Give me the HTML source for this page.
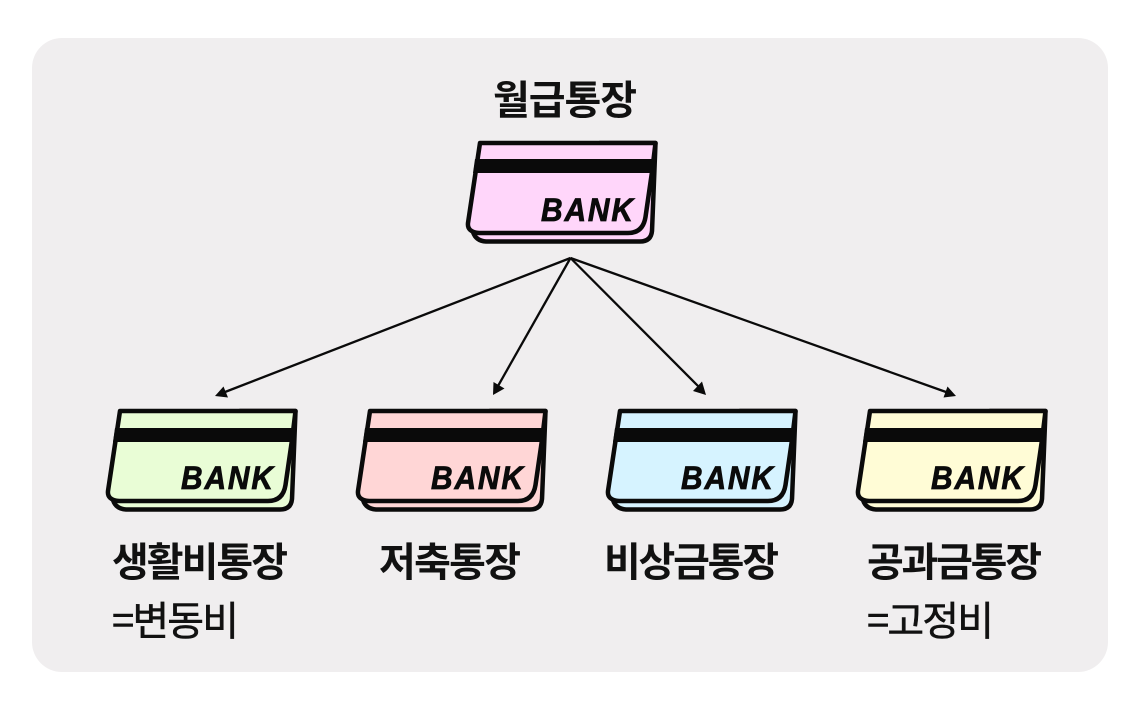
<!DOCTYPE html>
<html lang="ko">
<head>
<meta charset="utf-8">
<style>
html,body{margin:0;padding:0;background:#fff;width:1140px;height:713px;overflow:hidden}
svg{display:block}
.t{font-family:"Noto Sans CJK KR","Liberation Sans",sans-serif;fill:#111;font-weight:700;font-size:40px}
.s{font-family:"Noto Sans CJK KR","Liberation Sans",sans-serif;fill:#111;stroke:#111;stroke-width:.5px;font-weight:400;font-size:40px}
.b{font-family:"Liberation Sans",sans-serif;font-weight:700;font-style:italic;font-size:32.500px;fill:#0a0a0a;stroke:#0a0a0a;stroke-width:.8px}
</style>
</head>
<body>
<svg width="1140" height="713" viewBox="0 0 1140 713" xmlns="http://www.w3.org/2000/svg">
<rect x="32" y="38" width="1076" height="634" rx="30" fill="#f0eeef"/>

<g>
<path d="M473,232 Q476,241 486,241.500 L640,241.500 Q651,241.500 652,231 L655.500,143 L600,143 Z" fill="#ffd6fa" stroke="#0a0a0a" stroke-width="4.500" stroke-linejoin="round"/>
<path d="M480,143 L655.500,143 L652,172 L645.500,217 Q643,233 628,233 L479,233 Q467,232 468,223 Z" fill="#ffd6fa" stroke="#0a0a0a" stroke-width="4.500" stroke-linejoin="round"/>
<path d="M475,159 L656,159 L655,173 L473,173 Z" fill="#0a0a0a"/>
<text class="b" transform="translate(541,221) scale(.92,1)" x="0" y="0" textLength="100" lengthAdjust="spacing">BANK</text>
</g>

<g transform="translate(-360,268)">
<path d="M473,232 Q476,241 486,241.500 L640,241.500 Q651,241.500 652,231 L655.500,143 L600,143 Z" fill="#e9fdd6" stroke="#0a0a0a" stroke-width="4.500" stroke-linejoin="round"/>
<path d="M480,143 L655.500,143 L652,172 L645.500,217 Q643,233 628,233 L479,233 Q467,232 468,223 Z" fill="#e9fdd6" stroke="#0a0a0a" stroke-width="4.500" stroke-linejoin="round"/>
<path d="M475,160 L656,160 L655,174 L473,174 Z" fill="#0a0a0a"/>
<text class="b" transform="translate(541,221) scale(.92,1)" x="0" y="0" textLength="100" lengthAdjust="spacing">BANK</text>
</g>

<g transform="translate(-110,268)">
<path d="M473,232 Q476,241 486,241.500 L640,241.500 Q651,241.500 652,231 L655.500,143 L600,143 Z" fill="#ffd6d6" stroke="#0a0a0a" stroke-width="4.500" stroke-linejoin="round"/>
<path d="M480,143 L655.500,143 L652,172 L645.500,217 Q643,233 628,233 L479,233 Q467,232 468,223 Z" fill="#ffd6d6" stroke="#0a0a0a" stroke-width="4.500" stroke-linejoin="round"/>
<path d="M475,160 L656,160 L655,174 L473,174 Z" fill="#0a0a0a"/>
<text class="b" transform="translate(541,221) scale(.92,1)" x="0" y="0" textLength="100" lengthAdjust="spacing">BANK</text>
</g>

<g transform="translate(140,268)">
<path d="M473,232 Q476,241 486,241.500 L640,241.500 Q651,241.500 652,231 L655.500,143 L600,143 Z" fill="#d6f3ff" stroke="#0a0a0a" stroke-width="4.500" stroke-linejoin="round"/>
<path d="M480,143 L655.500,143 L652,172 L645.500,217 Q643,233 628,233 L479,233 Q467,232 468,223 Z" fill="#d6f3ff" stroke="#0a0a0a" stroke-width="4.500" stroke-linejoin="round"/>
<path d="M475,160 L656,160 L655,174 L473,174 Z" fill="#0a0a0a"/>
<text class="b" transform="translate(541,221) scale(.92,1)" x="0" y="0" textLength="100" lengthAdjust="spacing">BANK</text>
</g>

<g transform="translate(390,268)">
<path d="M473,232 Q476,241 486,241.500 L640,241.500 Q651,241.500 652,231 L655.500,143 L600,143 Z" fill="#fffcd6" stroke="#0a0a0a" stroke-width="4.500" stroke-linejoin="round"/>
<path d="M480,143 L655.500,143 L652,172 L645.500,217 Q643,233 628,233 L479,233 Q467,232 468,223 Z" fill="#fffcd6" stroke="#0a0a0a" stroke-width="4.500" stroke-linejoin="round"/>
<path d="M475,160 L656,160 L655,174 L473,174 Z" fill="#0a0a0a"/>
<text class="b" transform="translate(541,221) scale(.92,1)" x="0" y="0" textLength="100" lengthAdjust="spacing">BANK</text>
</g>

<g stroke="#0a0a0a" stroke-width="2.300" fill="none">
<path d="M570.500,258 L225,392"/>
<path d="M570.500,258 L498,386"/>
<path d="M570.500,258 L698,386"/>
<path d="M570.500,258 L946,392"/>
</g>
<g fill="#0a0a0a">
<path d="M215,396 L223.500,386.500 L228,397.500 Z"/>
<path d="M493,395 L493.500,382 L504.500,388.500 Z"/>
<path d="M706,395 L693,391 L702,381.500 Z"/>
<path d="M956,396 L943.500,397.500 L947.500,386.500 Z"/>
</g>

<text class="t" x="493" y="114" textLength="144" lengthAdjust="spacing">월급통장</text>
<text class="t" x="112" y="576" textLength="176" lengthAdjust="spacing">생활비통장</text>
<text class="t" x="379" y="576" textLength="142" lengthAdjust="spacing">저축통장</text>
<text class="t" x="604" y="576" textLength="175" lengthAdjust="spacing">비상금통장</text>
<text class="t" x="867" y="576" textLength="175" lengthAdjust="spacing">공과금통장</text>
<text class="s" x="112" y="635" textLength="127" lengthAdjust="spacing">=변동비</text>
<text class="s" x="867" y="635" textLength="127" lengthAdjust="spacing">=고정비</text>
</svg>
</body>
</html>
